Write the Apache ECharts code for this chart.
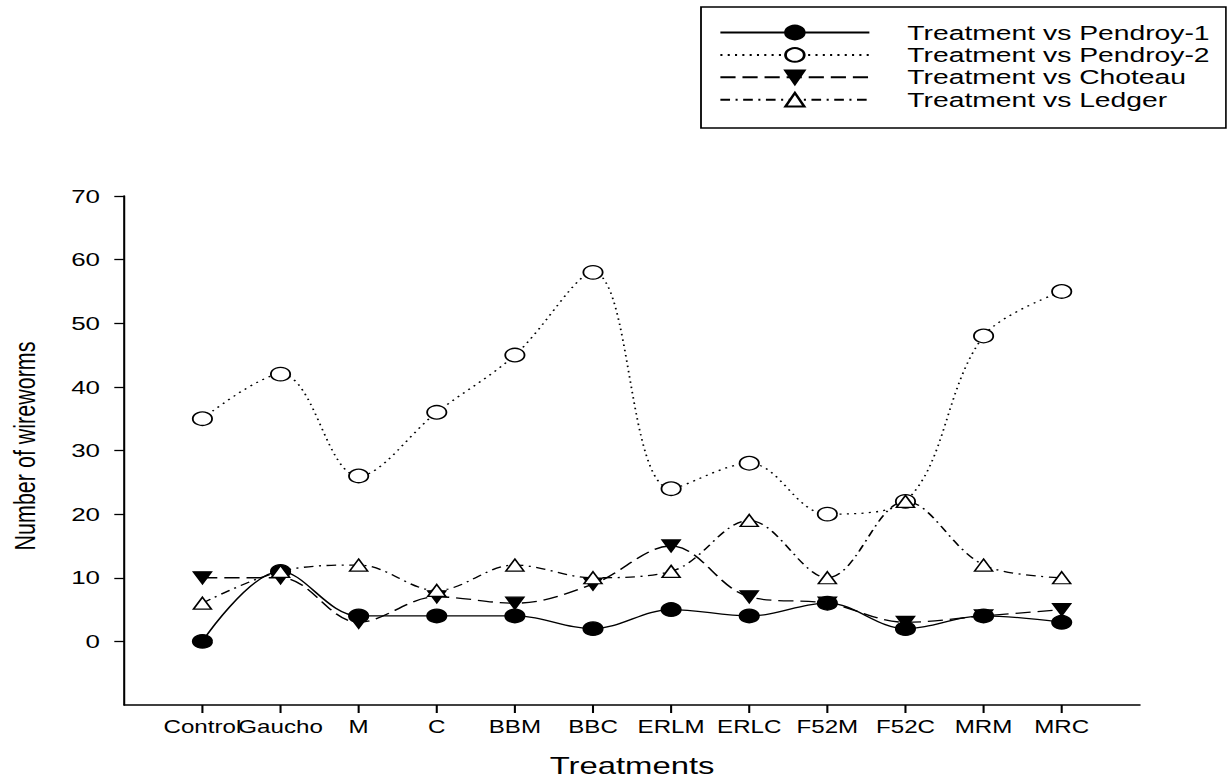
<!DOCTYPE html>
<html>
<head>
<meta charset="utf-8">
<script src="https://cdn.jsdelivr.net/npm/echarts@6/dist/echarts.min.js"></script>
<style>
html,body{margin:0;padding:0;background:#fff;overflow:hidden;}
#c{height:783px;transform-origin:0 0;}
</style>
</head>
<body>
<div id="c"></div>
<script>
// ---- data ----
const treatments = ['Control','Gaucho','M','C','BBM','BBC','ERLM','ERLC','F52M','F52C','MRM','MRC'];
const pendroy1 = [0, 11, 4, 4, 4, 2, 5, 4, 6, 2, 4, 3];
const pendroy2 = [35, 42, 26, 36, 45, 58, 24, 28, 20, 22, 48, 55];
const choteau  = [10, 10, 3, 7, 6, 9, 15, 7, 6, 3, 4, 5];
const ledger   = [6, 11, 12, 8, 12, 10, 11, 19, 10, 22, 12, 10];
const yTicks   = [0, 10, 20, 30, 40, 50, 60, 70];
const seriesNames = ['Treatment vs Pendroy-1','Treatment vs Pendroy-2','Treatment vs Choteau','Treatment vs Ledger'];

// ---- layout (the source picture is horizontally stretched) ----
const S = 1.38;
const px = v => v / S;
const dom = document.getElementById('c');
dom.style.width = (1227 / S) + 'px';
dom.style.transform = 'scaleX(' + S + ')';

// treatment positions 1..12 on an axis running 0..13
const xPos = treatments.map((t, i) => i + 1);
const toPoints = arr => arr.map((v, i) => [xPos[i], v]);
const FONT = 'Liberation Sans, Arial, sans-serif';
const Y_MIN = -10, Y_MAX = 70;

const chart = echarts.init(dom, null, {renderer: 'svg'});

const baseSeries = (name, data, symbol, size, rotate, fill, dash) => ({
  name: name,
  type: 'line',
  data: toPoints(data),
  smooth: 0.35,
  symbol: symbol,
  symbolSize: size,
  symbolRotate: rotate,
  showAllSymbol: true,
  lineStyle: {color: '#000', width: 1.3, type: dash},
  itemStyle: {color: fill, borderColor: '#000', borderWidth: 1.3},
  emphasis: {disabled: true},
  z: 3
});

const staticGraphics = [
  {id: 'legendBox', type: 'rect', shape: {x: px(701), y: 7, width: px(1226) - px(701), height: 121},
   style: {fill: 'none', stroke: '#000', lineWidth: 1.3}, silent: true},
  {id: 'yName', type: 'text', x: px(25), y: 446, rotation: Math.PI / 2,
   style: {text: 'Number of wireworms', fontSize: 21.5, fontFamily: FONT, fill: '#000',
     textAlign: 'center', textVerticalAlign: 'middle'}, silent: true}
];

chart.setOption({
  animation: false,
  backgroundColor: '#fff',
  grid: {left: px(124.3), right: 1227 / S - px(1140), top: 196, bottom: 61},
  xAxis: {
    type: 'value',
    min: 0,
    max: xPos.length + 1,
    interval: 1,
    name: 'Treatments',
    nameLocation: 'middle',
    nameGap: 49,
    nameTextStyle: {fontSize: 23.8, fontFamily: FONT, color: '#000'},
    axisLine: {show: true, onZero: false, lineStyle: {color: '#000', width: 1.5}},
    axisTick: {show: false},
    axisLabel: {show: true, margin: 13, hideOverlap: false, fontSize: 17.5, fontFamily: FONT, color: '#000',
      formatter: v => treatments[Math.round(v) - 1] || ''},
    splitLine: {show: false}
  },
  yAxis: {
    type: 'value',
    min: Y_MIN,
    max: Y_MAX,
    axisLine: {show: true, onZero: false, lineStyle: {color: '#000', width: 1.5}},
    axisTick: {show: true, length: px(10), lineStyle: {color: '#000', width: 1.3}, customValues: yTicks},
    axisLabel: {margin: px(24.3), fontSize: 18.8, fontFamily: FONT, color: '#000', customValues: yTicks},
    splitLine: {show: false}
  },
  legend: {
    left: px(719),
    top: 22,
    orient: 'vertical',
    padding: 0,
    itemWidth: px(868) - px(719),
    itemHeight: 17,
    itemGap: 1.4,
    textStyle: {fontSize: 20.5, fontFamily: FONT, color: '#000', lineHeight: 17,
      padding: [0, 0, 0, px(906) - px(868) - 5]},
    data: seriesNames,
    selectedMode: false
  },
  graphic: staticGraphics,
  series: [
    baseSeries(seriesNames[0], pendroy1, 'circle', [14, 13.5], 0, '#000', 'solid'),
    baseSeries(seriesNames[1], pendroy2, 'circle', [14, 13.5], 0, '#fff', [1.5, 3.8]),
    baseSeries(seriesNames[2], choteau, 'triangle', [13, 12], 180, '#000', [11, 5]),
    baseSeries(seriesNames[3], ledger, 'triangle', [13, 12], 0, '#fff', [7, 4, 1.5, 4])
  ]
});

// x-axis tick marks at each treatment, placed through the chart's own scales
const tickMarks = xPos.map((v, i) => {
  const p = chart.convertToPixel({gridIndex: 0}, [v, Y_MIN]);
  return {id: 'xtick' + i, type: 'rect', silent: true, z: 100,
    shape: {x: p[0] - 0.75, y: p[1], width: 1.5, height: 8},
    style: {fill: '#000'}};
});
chart.setOption({graphic: staticGraphics.concat(tickMarks)});
</script>
</body>
</html>
